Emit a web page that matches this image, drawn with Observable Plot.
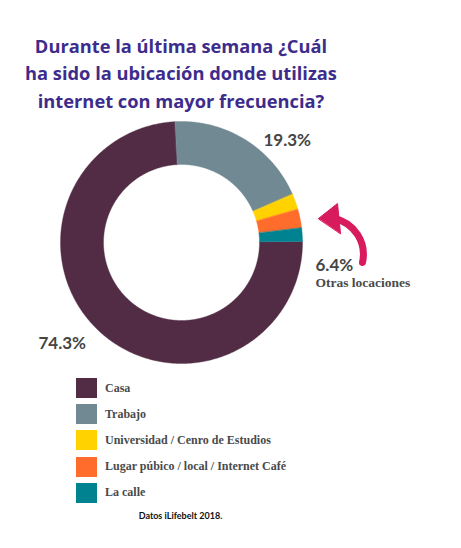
<!DOCTYPE html>
<html><head><meta charset="utf-8">
<script src="https://cdn.jsdelivr.net/npm/d3@7"></script>
<script src="https://cdn.jsdelivr.net/npm/@observablehq/plot@0.6"></script>
<style>
body{margin:0;background:#fff;width:461px;height:548px;position:relative;overflow:hidden}
#title{position:absolute;left:0;top:31.5px;width:362px;text-align:center;font-family:"Open Sans",sans-serif;font-weight:700;font-size:18.3px;line-height:27.5px;color:#3e2c8c;white-space:nowrap}
#chart{position:absolute;left:0;top:118px}
#legend{position:absolute;left:76px;top:378px}
.row{position:absolute;left:0;height:20px;display:flex;align-items:center;white-space:nowrap}
.sw{width:21px;height:20px;margin-right:8px;flex:none}
.lab{font-family:"Liberation Serif",serif;font-weight:700;font-size:12px;color:#4a4a4a}
#caption{position:absolute;left:0;width:361px;top:510px;text-align:center;font-family:Lato,sans-serif;font-weight:700;font-size:9px;color:#111}
</style></head><body>
<div id="title">Durante la última semana ¿Cuál<br>ha sido la ubicación donde utilizas<br>internet con mayor frecuencia?</div>
<div id="chart"></div>
<div id="legend"></div>
<div id="caption">Datos iLifebelt 2018.</div>
<script>
// ---- data ----
const categories = ["Casa", "Trabajo", "Universidad / Cenro de Estudios", "Lugar púbico / local / Internet Café", "La calle"];
const values = [74.3, 19.3, 2.1, 2.5, 1.8];
const colors = ["#522c44", "#708992", "#ffd200", "#ff6c2c", "#008291"];
const otherLabel = "Otras locaciones";

// ---- geometry ----
const cx = 181, cy = 242, R = 121, R0 = 78;
const deg = Math.PI / 180;
const start = 89.5 * deg;
const pie = d3.pie().sort(null).value(d => d.value).startAngle(start).endAngle(start + 2 * Math.PI);
const arcs = pie(categories.map((c, i) => ({category: c, value: values[i]})));
const pts = [];
for (const a of arcs) {
  const n = Math.max(2, Math.ceil((a.endAngle - a.startAngle) / (0.5 * deg)));
  const ang = k => a.startAngle + (a.endAngle - a.startAngle) * k / n;
  for (let k = 0; k <= n; k++) pts.push({category: a.data.category, x: cx + R * Math.sin(ang(k)), y: cy - R * Math.cos(ang(k))});
  for (let k = n; k >= 0; k--) pts.push({category: a.data.category, x: cx + R0 * Math.sin(ang(k)), y: cy - R0 * Math.cos(ang(k))});
}

const otherSum = d3.sum(values.slice(2)).toFixed(1) + "%";
const labels = [
  {t: values[1].toFixed(1) + "%", x: 263, y: 140},
  {t: values[0].toFixed(1) + "%", x: 38, y: 343},
  {t: otherSum, x: 315, y: 265}
];
const crimson = "#d81b5c";

const chart = Plot.plot({
  width: 461, height: 260,
  margin: 0,
  x: {domain: [0, 461], range: [0, 461], axis: null},
  y: {domain: [118, 378], range: [0, 260], axis: null},
  color: {domain: categories, range: colors},
  style: {background: "transparent"},
  marks: [
    Plot.line(pts, {x: "x", y: "y", z: "category", fill: "category", stroke: "category", strokeWidth: 0.4, curve: "linear-closed"}),
    Plot.text(labels, {x: "x", y: "y", text: "t", textAnchor: "start", fontFamily: "Lato", fontWeight: 700, fontSize: 17, fill: "#454545"}),
    Plot.text([otherLabel], {x: 315, y: 282, text: d => d, textAnchor: "start", fontFamily: "Liberation Serif", fontWeight: 700, fontSize: 13.5, fill: "#4a4a4a"}),
    Plot.arrow([{x1: 362, y1: 262, x2: 334, y2: 218}], {x1: "x1", y1: "y1", x2: "x2", y2: "y2", bend: -45, headLength: 0, stroke: crimson, strokeWidth: 7}),
    Plot.line([{x: 318, y: 218}, {x: 337, y: 203}, {x: 340, y: 233}], {x: "x", y: "y", fill: crimson, stroke: crimson, strokeWidth: 1, curve: "linear-closed"})
  ]
});
document.getElementById("chart").appendChild(chart);

const legend = document.getElementById("legend");
categories.forEach((c, i) => {
  const row = document.createElement("div");
  row.className = "row";
  row.style.top = (i * 26.2) + "px";
  const sw = document.createElement("div");
  sw.className = "sw";
  sw.style.background = colors[i];
  const lab = document.createElement("span");
  lab.className = "lab";
  lab.textContent = c;
  row.appendChild(sw); row.appendChild(lab);
  legend.appendChild(row);
});
</script>
</body></html>
